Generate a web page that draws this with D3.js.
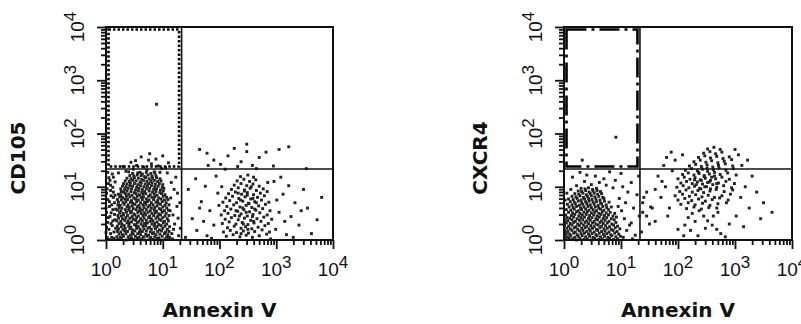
<!DOCTYPE html>
<html>
<head>
<meta charset="utf-8">
<script src="https://cdn.jsdelivr.net/npm/d3@7"></script>
<style>
  body { margin: 0; background: #fff; }
  .tick-label { font-family: "Liberation Sans", Arial, sans-serif; font-size: 19px; fill: #111; }
  .axis-title { font-family: "DejaVu Sans", Verdana, sans-serif; font-weight: bold; font-size: 20px; fill: #111; }
</style>
</head>
<body>
<svg id="chart" width="801" height="324"></svg>
<script>

// events are [annexin, marker] in hundredths of a decade (0 = 10^0, 400 = 10^4)

// CD105 panel
const cd105Dense = [
  [21,1],[27,3],[36,0],[41,2],[49,1],[55,3],[63,2],[68,0],[77,2],[83,1],[90,3],[97,0],[104,2],[110,1],
  [19,6],[25,5],[31,7],[39,6],[45,4],[52,7],[58,5],[66,6],[72,7],[79,5],[86,6],[93,4],[99,7],[107,6],[112,5],
  [23,11],[29,10],[35,12],[43,9],[48,11],[56,12],[61,10],[70,11],[75,9],[82,12],[88,10],[95,11],[103,12],[109,10],
  [20,16],[26,15],[33,17],[38,16],[46,14],[51,17],[59,15],[64,16],[71,17],[78,15],[84,14],[91,16],[98,17],[105,15],[111,16],
  [22,21],[30,20],[34,22],[42,21],[47,19],[54,22],[60,20],[67,21],[74,22],[80,20],[87,21],[94,19],[100,22],[108,20],
  [20,26],[27,25],[32,27],[40,26],[44,24],[53,27],[57,25],[65,26],[70,27],[77,24],[85,26],[90,25],[97,27],[104,26],[112,25],
  [23,31],[28,30],[37,32],[41,31],[50,29],[55,32],[62,30],[68,31],[73,32],[81,30],[86,31],[93,29],[101,32],[107,30],
  [19,36],[26,35],[33,37],[39,36],[45,34],[52,37],[58,35],[64,36],[71,37],[78,35],[83,36],[90,34],[97,37],[103,35],[110,36],
  [22,41],[29,40],[35,42],[42,41],[48,39],[54,42],[61,40],[67,41],[75,42],[80,40],[88,41],[94,39],[100,42],[108,40],
  [21,46],[27,45],[31,47],[38,46],[46,44],[51,47],[57,45],[65,46],[70,47],[77,45],[84,46],[91,44],[96,47],[104,45],[111,46],
  [24,51],[30,50],[36,52],[43,51],[49,49],[56,52],[62,50],[68,51],[74,52],[81,50],[87,51],[93,49],[99,52],[106,50],
  [20,56],[26,55],[34,57],[40,56],[45,54],[53,57],[59,55],[64,56],[71,57],[78,55],[85,56],[89,54],[97,57],[103,55],[110,56],
  [23,61],[28,60],[37,62],[41,61],[48,59],[55,62],[60,60],[67,61],[74,62],[80,60],[86,61],[94,59],[100,62],[107,60],
  [21,66],[25,65],[32,67],[39,66],[46,64],[51,67],[58,65],[65,66],[70,67],[77,65],[83,66],[90,64],[96,67],[104,65],[111,66],
  [22,71],[30,70],[35,72],[43,71],[47,69],[54,72],[61,70],[68,71],[73,72],[80,70],[88,71],[92,69],[99,72],[106,70],
  [20,76],[27,75],[33,77],[38,76],[45,74],[52,77],[57,75],[64,76],[71,77],[76,75],[84,76],[91,74],[97,77],[103,75],[109,76],
  [24,81],[29,80],[36,82],[42,81],[49,79],[55,82],[62,80],[66,81],[75,82],[81,80],[86,81],[93,79],[101,82],[107,80],
  [22,86],[26,85],[34,87],[40,86],[46,84],[53,87],[59,85],[65,86],[70,87],[78,85],[85,86],[90,84],[98,87],[104,85],
  [27,91],[31,90],[37,92],[44,91],[50,89],[57,92],[63,90],[68,91],[76,92],[82,90],[88,91],[95,89],[101,92],
  [26,96],[33,95],[39,97],[45,96],[52,94],[58,97],[64,95],[71,96],[77,97],[84,95],[89,96],[96,94],[102,97],
  [29,101],[35,100],[42,102],[47,101],[54,99],[61,102],[67,100],[73,101],[80,102],[86,100],[92,101],[99,99],
  [31,106],[37,105],[43,107],[50,106],[56,104],[62,107],[69,105],[75,106],[81,107],[87,105],[94,106],[100,104],
  [34,111],[41,110],[47,112],[53,111],[60,109],[66,112],[72,110],[79,111],[85,112],[91,110],[97,111],
  [37,116],[44,115],[50,117],[57,116],[63,114],[70,117],[76,115],[82,116],[89,117],[95,115],
  [42,121],[49,120],[55,122],[62,121],[68,119],[74,122],[81,120],[88,121],
  [47,125],[56,126],[64,124],[71,127],[79,125],[86,126]
];
const cd105Edge = [
  [2,5],[8,12],[14,3],[5,20],[11,27],[3,33],[16,38],[7,44],[1,52],[12,57],[6,63],[15,70],[3,76],[9,83],
  [13,90],[2,96],[8,103],[16,109],[5,117],[11,124],[14,15],[4,42],[10,66],[1,88],[7,112],[17,58],[12,99],
  [3,127],[9,31],[15,48],[0,14],[6,72],[13,80],[0,60],[10,5],[17,22],[5,1],[12,36],[1,24],[8,93],[16,84],
  [4,106],[13,118],[9,51],
  [116,12],[121,30],[128,8],[118,47],[125,63],[114,79],[131,22],[120,95],[127,41],[115,108],[123,118],
  [130,70],[117,2],[126,88],[113,55],[119,20],
  [35,129],[48,133],[60,127],[72,131],[85,128],[98,134],[54,140],[67,137],[80,143],[92,139],[44,146],
  [75,150],[105,136],[62,156],[88,152],[110,145],[30,138],[100,158],[77,162],[52,149],[95,127],[40,128],
  [22,126],[108,126],[89,255]
];
const cd105Apoptotic = [
  [212,7],[224,10],[236,6],[247,9],[258,5],[270,8],[283,11],
  [207,15],[219,18],[230,14],[242,17],[251,13],[262,16],[275,19],[288,15],
  [214,23],[226,26],[238,22],[246,25],[257,21],[268,24],[280,27],
  [205,31],[217,34],[229,30],[240,33],[250,29],[261,32],[273,35],[286,31],
  [210,39],[221,42],[233,38],[244,41],[255,37],[266,40],[278,43],[292,39],
  [203,47],[215,50],[227,46],[238,49],[249,45],[259,48],[271,51],[284,47],
  [209,55],[220,58],[232,54],[243,57],[253,53],[264,56],[276,59],[289,55],
  [213,63],[225,66],[236,62],[247,65],[257,61],[269,64],[281,67],
  [206,71],[218,74],[230,70],[241,73],[251,69],[262,72],[274,75],[287,71],
  [211,79],[223,82],[234,78],[245,81],[255,77],[267,80],[279,83],
  [216,87],[228,90],[239,86],[249,89],[260,85],[272,88],[284,91],
  [221,95],[233,98],[244,94],[254,97],[265,93],[277,96],
  [226,103],[238,106],[248,102],[259,105],[270,101],
  [231,111],[243,114],[253,110],[264,113],
  [237,119],[250,122],[260,118],
  [235,45],[247,52],[258,44],[241,60],[252,68],[262,58],[237,75],[249,84],[259,78],[244,92],[256,100],
  [233,88],[265,70],[229,55],[260,35],[242,30],[250,20],[238,12],
  [140,5],[152,40],[160,18],[168,72],[175,101],[183,55],[190,28],[197,88],[145,95],[158,115],[186,3],
  [194,120],[172,35],[165,60],[178,8],[299,20],[305,52],[312,86],[318,10],[326,44],[333,70],[340,28],
  [348,95],[355,60],[362,12],[372,38],[380,80],[296,110],[308,118],[322,102],[315,35],[301,75],[330,5],
  [344,55],[290,2],[199,65],[204,100],[285,108],
  [165,170],[178,163],[190,150],[202,142],[215,158],[226,172],[238,147],[248,166],[258,140],[270,155],
  [282,165],[295,139],[305,170],[322,175],[248,180],[232,138],[210,133],[265,134],[353,134],[180,140]
];

// CXCR4 panel
const cxcr4Dense = [
  [3,1],[9,3],[15,2],[22,0],[28,3],[35,1],[41,2],[48,0],[54,3],[61,1],[67,2],[74,0],[80,3],[87,1],[94,2],
  [1,7],[6,6],[12,8],[19,5],[25,7],[32,8],[38,6],[45,7],[51,5],[58,8],[64,6],[71,7],[77,5],[84,8],[91,6],[99,7],
  [4,12],[10,11],[17,13],[23,10],[30,12],[36,13],[43,11],[49,12],[56,10],[62,13],[69,11],[75,12],[82,10],[89,13],[96,11],
  [2,17],[7,16],[14,18],[20,15],[27,17],[33,18],[40,16],[46,17],[53,15],[59,18],[66,16],[72,17],[79,15],[86,18],[93,16],
  [5,22],[11,21],[18,23],[24,20],[31,22],[37,23],[44,21],[50,22],[57,20],[63,23],[70,21],[76,22],[83,20],[90,23],[98,21],
  [1,27],[8,26],[14,28],[21,25],[27,27],[34,28],[40,26],[47,27],[53,25],[60,28],[66,26],[73,27],[80,25],[87,28],[94,26],
  [4,32],[11,31],[17,33],[24,30],[30,32],[37,33],[43,31],[50,32],[56,30],[63,33],[69,31],[76,32],[84,30],[91,33],
  [2,37],[7,36],[14,38],[20,35],[27,37],[33,38],[40,36],[46,37],[53,35],[59,38],[66,36],[72,37],[79,35],[88,38],
  [5,42],[10,41],[17,43],[23,40],[30,42],[36,43],[43,41],[49,42],[56,40],[62,43],[69,41],[75,42],[83,40],[92,43],
  [3,47],[13,46],[19,48],[26,45],[32,47],[39,48],[45,46],[52,47],[58,45],[65,48],[71,46],[78,47],[86,45],
  [8,52],[15,51],[22,53],[28,50],[35,52],[41,53],[48,51],[54,52],[61,50],[67,53],[74,51],[81,52],[89,50],
  [4,57],[12,56],[18,58],[25,55],[31,57],[38,58],[44,56],[51,57],[57,55],[64,58],[70,56],[78,57],
  [9,62],[16,61],[22,63],[29,60],[35,62],[42,63],[48,61],[55,62],[61,60],[68,63],[75,61],[83,62],
  [6,67],[14,66],[20,68],[27,65],[33,67],[40,68],[46,66],[53,67],[60,65],[66,68],[74,66],
  [11,72],[18,71],[25,73],[31,70],[38,72],[44,73],[51,71],[57,72],[64,70],[71,73],[79,71],
  [8,77],[16,76],[23,78],[30,75],[36,77],[43,78],[49,76],[56,77],[63,75],[70,78],
  [14,82],[21,81],[28,83],[34,80],[41,82],[48,83],[54,81],[61,82],[68,80],
  [19,87],[26,86],[33,88],[39,85],[46,87],[53,88],[59,86],[66,87],
  [25,92],[31,91],[38,93],[44,90],[51,92],[58,93],[64,91],
  [30,97],[37,96],[43,98],[50,95],[57,97]
];
const cxcr4Edge = [
  [104,5],[110,18],[118,32],[125,9],[132,45],[101,55],[108,70],[115,28],[122,60],[136,15],[140,80],[112,90],
  [97,78],[128,85],[103,100],[86,98],[74,103],[62,108],[48,104],[36,110],[22,102],[12,95],[5,88],[2,75],
  [70,115],[55,120],[90,112],[40,122],[15,118],[100,125],[80,128],[28,127],[118,108],[131,120],[95,63],
  [106,40],[120,2],[138,52],
  [32,150],[91,193]
];
const cxcr4Apoptotic = [
  [215,59],[228,62],[241,58],[254,61],[268,60],
  [205,67],[218,70],[230,66],[243,69],[256,65],[270,68],[285,70],
  [200,75],[212,78],[224,74],[236,77],[248,73],[260,76],[273,79],[288,75],
  [195,83],[208,86],[220,82],[231,85],[242,81],[253,84],[264,80],[277,83],[292,86],
  [203,91],[214,94],[225,90],[235,93],[245,89],[256,92],[267,95],[281,91],[296,94],
  [198,99],[209,102],[219,98],[229,101],[238,97],[247,100],[257,96],[268,99],[280,102],[294,98],
  [205,107],[215,110],[225,106],[234,109],[243,105],[252,108],[261,104],[271,107],[284,110],[299,106],
  [200,115],[211,118],[221,114],[230,117],[239,113],[248,116],[257,112],[266,115],[277,118],[290,114],
  [208,123],[218,126],[228,122],[237,125],[246,121],[255,124],[264,120],[274,123],[287,126],[302,122],
  [213,131],[224,134],[234,130],[243,133],[252,129],[262,132],[272,135],[284,131],[297,134],
  [220,139],[231,142],[241,138],[251,141],[261,137],[271,140],[283,143],[296,139],
  [228,147],[239,150],[249,146],[259,149],[270,145],[281,148],[294,151],
  [236,155],[247,158],[257,154],[268,157],[279,153],[290,156],
  [245,163],[256,166],[266,162],[277,165],
  [252,171],[263,174],[274,170],
  [232,104],[241,112],[250,100],[259,118],[236,127],[246,119],[255,109],[264,127],[229,113],[268,106],
  [240,96],[251,135],
  [225,50],[218,42],[230,35],[212,28],[222,18],[237,55],[245,45],[252,36],[260,28],[268,20],[275,12],
  [283,6],[248,22],[262,45],[235,8],[290,30],[270,52],[210,8],[200,20],
  [170,80],[178,100],[165,120],[185,60],[160,95],[175,140],[190,130],[182,45],[310,80],[318,100],[325,60],
  [330,120],[338,90],[345,40],[312,140],[322,150],[306,160],[350,70],[195,150],[188,165],[172,110],
  [302,45],[315,25],[365,52],[155,60],[150,30],[145,90],[180,155],[208,160],[300,170],
  [145,45],[152,62],[160,35],[138,70]
];

// axis and gate settings
const decades = [0, 1, 2, 3, 4];
const minorSteps = [2, 3, 4, 5, 6, 7, 8, 9];
const quadrantCut = [21.5, 21.5];
const xTitle = "Annexin V";

const panels = [
  {yTitle: "CD105", events: [cd105Edge, cd105Dense, cd105Apoptotic], left: 106, right: 333,
   tickLabelX: 84, titleX: 25, gateDash: "2.5,2"},
  {yTitle: "CXCR4", events: [cxcr4Edge, cxcr4Dense, cxcr4Apoptotic], left: 564, right: 792,
   tickLabelX: 542, titleX: 487, gateDash: "20,5,3,5"}
];

const svg = d3.select("#chart");

function DotPlot(p) {
  const top = 27, bottom = 240;

  const xScale = d3.scaleLog().domain([1, 1e4]).range([p.left, p.right]);
  const yScale = d3.scaleLog().domain([1, 1e4]).range([bottom, top]);

  const g = svg.append("g");

  // hundredths of a decade -> fluorescence value
  const toVal = u => Math.pow(10, u / 100);
  const events = p.events.flat();
  const dot = 2.9;

  g.selectAll(".dot")
    .data(events)
    .enter()
    .append("rect")
    .attr("class", "dot")
    .attr("x", d => xScale(toVal(d[0])) - dot / 2)
    .attr("y", d => yScale(toVal(d[1])) - dot / 2)
    .attr("width", dot)
    .attr("height", dot)
    .attr("fill", "#222");

  // quadrant lines
  g.append("line")
    .attr("x1", xScale(quadrantCut[0])).attr("x2", xScale(quadrantCut[0]))
    .attr("y1", top).attr("y2", bottom)
    .attr("stroke", "#111").attr("stroke-width", 1.6);
  g.append("line")
    .attr("x1", p.left).attr("x2", p.right)
    .attr("y1", yScale(quadrantCut[1])).attr("y2", yScale(quadrantCut[1]))
    .attr("stroke", "#111").attr("stroke-width", 1.6);

  // gate in upper-left quadrant
  g.append("rect")
    .attr("x", xScale(1) + 2.5)
    .attr("y", top + 2.5)
    .attr("width", xScale(quadrantCut[0]) - xScale(1) - 5)
    .attr("height", yScale(quadrantCut[1]) - top - 5)
    .attr("fill", "none")
    .attr("stroke", "#000")
    .attr("stroke-width", 2.6)
    .attr("stroke-dasharray", p.gateDash);

  // frame
  g.append("rect")
    .attr("x", p.left).attr("y", top)
    .attr("width", p.right - p.left).attr("height", bottom - top)
    .attr("fill", "none").attr("stroke", "#111").attr("stroke-width", 2);

  // log ticks: majors longer than minors
  const majors = decades.map(d => Math.pow(10, d));
  const minors = decades.slice(0, -1).flatMap(d => minorSteps.map(m => m * Math.pow(10, d)));

  const xAxisMinor = d3.axisBottom(xScale).tickValues(minors).tickSize(5).tickFormat("");
  const xAxisMajor = d3.axisBottom(xScale).tickValues(majors).tickSize(9).tickFormat("");
  const yAxisMinor = d3.axisLeft(yScale).tickValues(minors).tickSize(5).tickFormat("");
  const yAxisMajor = d3.axisLeft(yScale).tickValues(majors).tickSize(9).tickFormat("");

  [xAxisMinor, xAxisMajor].forEach(ax => {
    g.append("g").attr("transform", `translate(0,${bottom})`).call(ax);
  });
  [yAxisMinor, yAxisMajor].forEach(ax => {
    g.append("g").attr("transform", `translate(${p.left},0)`).call(ax);
  });
  g.selectAll(".domain").remove();
  g.selectAll(".tick line").attr("stroke", "#111").attr("stroke-width", 1.8);

  // tick labels as 10 with superscript exponent
  const xl = g.selectAll(".xlab")
    .data(decades)
    .enter()
    .append("text")
    .attr("class", "tick-label")
    .attr("text-anchor", "middle")
    .attr("x", d => xScale(Math.pow(10, d)))
    .attr("y", 276);
  xl.append("tspan").text("10");
  xl.append("tspan").attr("dy", -8).attr("font-size", 17).text(d => d);

  const yl = g.selectAll(".ylab")
    .data(decades)
    .enter()
    .append("text")
    .attr("class", "tick-label")
    .attr("text-anchor", "middle")
    .attr("transform", d => `translate(${p.tickLabelX},${yScale(Math.pow(10, d))}) rotate(-90)`);
  yl.append("tspan").text("10");
  yl.append("tspan").attr("dy", -8).attr("font-size", 17).text(d => d);

  // titles
  g.append("text")
    .attr("class", "axis-title")
    .attr("text-anchor", "middle")
    .attr("x", (p.left + p.right) / 2)
    .attr("y", 317)
    .text(xTitle);

  g.append("text")
    .attr("class", "axis-title")
    .attr("text-anchor", "middle")
    .attr("transform", `translate(${p.titleX},158) rotate(-90)`)
    .text(p.yTitle);
}

panels.forEach(DotPlot);

</script>
</body>
</html>
